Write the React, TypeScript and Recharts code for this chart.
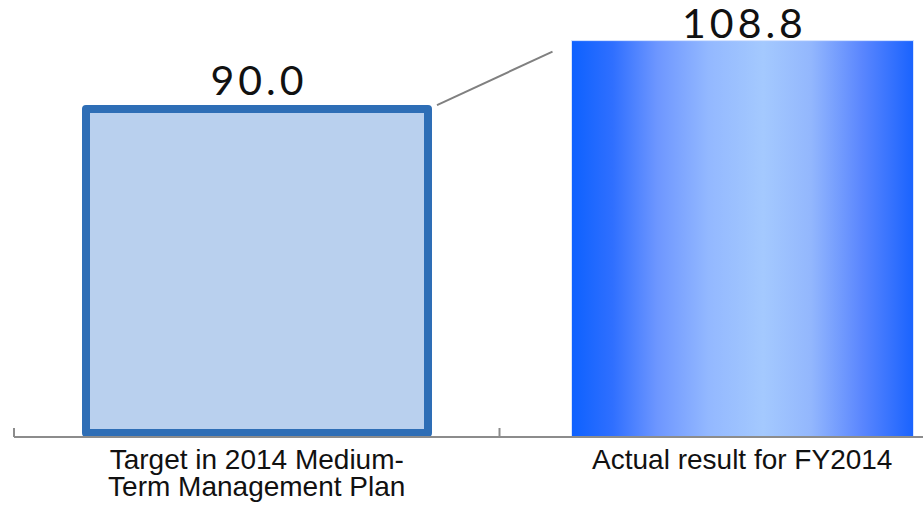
import React from "react";
import { BarChart, Bar, XAxis, YAxis, LabelList } from "recharts";

const CATEGORIES = [
  "Target in 2014 Medium-Term Management Plan",
  "Actual result for FY2014",
];
const VALUES = [90.0, 108.8];
const TICK_LINES = [
  ["Target in 2014 Medium-", "Term Management Plan"],
  ["Actual result for FY2014"],
];

const CHART_W = 1000;
const CHART_H = 508;
const MARGIN = { top: 18, right: 15, left: 14, bottom: 0 };
const BAND = (CHART_W - MARGIN.left - MARGIN.right) / CATEGORIES.length;
const LABEL_GAP = [14, 3];

const data = CATEGORIES.map((name, i) => ({ name, value: VALUES[i] }));

function CategoryTick(props: any) {
  const { x, y, payload, index } = props;
  const lines = TICK_LINES[index] || [String(payload.value)];
  const left = x - BAND / 2;
  return (
    <g>
      <line x1={left} y1={y - 9} x2={left} y2={y} stroke="#8c8c8c" strokeWidth={2} />
      {index === CATEGORIES.length - 1 && (
        <line x1={x + BAND / 2} y1={y - 9} x2={x + BAND / 2} y2={y} stroke="#8c8c8c" strokeWidth={2} />
      )}
      <text
        x={x}
        y={y + 32}
        textAnchor="middle"
        fontFamily="'Liberation Sans', Arial, sans-serif"
        fontSize={28}
        fill="#111"
      >
        {lines.map((l: string, i: number) => (
          <tspan key={i} x={x} dy={i === 0 ? 0 : 27}>
            {l}
          </tspan>
        ))}
      </text>
    </g>
  );
}

function BarShape(props: any) {
  const { x, y, width, height, index } = props;
  if (index === 0) {
    return (
      <rect
        x={x}
        y={y}
        width={width}
        height={height - 4}
        fill="#b9d0ee"
        stroke="#2e6eb6"
        strokeWidth={8}
        strokeLinejoin="round"
      />
    );
  }
  // connector from the first bar's top-right corner to this bar
  const base = y + height;
  const prevTop = base - VALUES[0] * (height / VALUES[index]);
  const prevRight = x - BAND + width;
  return (
    <g>
      <rect x={x} y={y} width={width} height={height} fill="url(#actualGrad)" stroke="#d6e4ff" strokeWidth={1} />
      <line
        x1={prevRight + 9}
        y1={prevTop - 4}
        x2={x - 19}
        y2={y + 11}
        stroke="#808080"
        strokeWidth={2}
      />
    </g>
  );
}

function ValueLabel(props: any) {
  const { x, y, width, value, index } = props;
  return (
    <text
      x={x + width / 2 + 2}
      y={y - LABEL_GAP[index]}
      textAnchor="middle"
      fontFamily="Lato, 'Open Sans', sans-serif"
      fontSize={41}
      letterSpacing={4}
      fill="#111"
    >
      {Number(value).toFixed(1)}
    </text>
  );
}

export default function App() {
  return (
    <div
      style={{
        position: "absolute",
        left: 0,
        top: 0,
        width: 923,
        height: 508,
        overflow: "hidden",
        background: "#fff",
      }}
    >
      <BarChart width={CHART_W} height={CHART_H} data={data} margin={MARGIN}>
        <defs>
          <linearGradient id="actualGrad" x1="0" y1="0" x2="1" y2="0">
            <stop offset="0%" stopColor="#0d61ff" />
            <stop offset="12%" stopColor="#2f6fff" />
            <stop offset="25%" stopColor="#6d96ff" />
            <stop offset="40%" stopColor="#93b8ff" />
            <stop offset="56%" stopColor="#a4c9fe" />
            <stop offset="70%" stopColor="#93b7fd" />
            <stop offset="85%" stopColor="#5a86fe" />
            <stop offset="100%" stopColor="#1a63fe" />
          </linearGradient>
        </defs>
        <XAxis
          dataKey="name"
          height={71}
          tickSize={0}
          tickMargin={0}
          tickLine={false}
          axisLine={{ stroke: "#8c8c8c", strokeWidth: 2 }}
          tick={(p: any) => <CategoryTick {...p} />}
          interval={0}
        />
        <YAxis hide domain={[0, 115]} />
        <Bar dataKey="value" barSize={342} shape={(p: any) => <BarShape {...p} />} isAnimationActive={false}>
          <LabelList dataKey="value" content={(p: any) => <ValueLabel {...p} />} />
        </Bar>
      </BarChart>
    </div>
  );
}
